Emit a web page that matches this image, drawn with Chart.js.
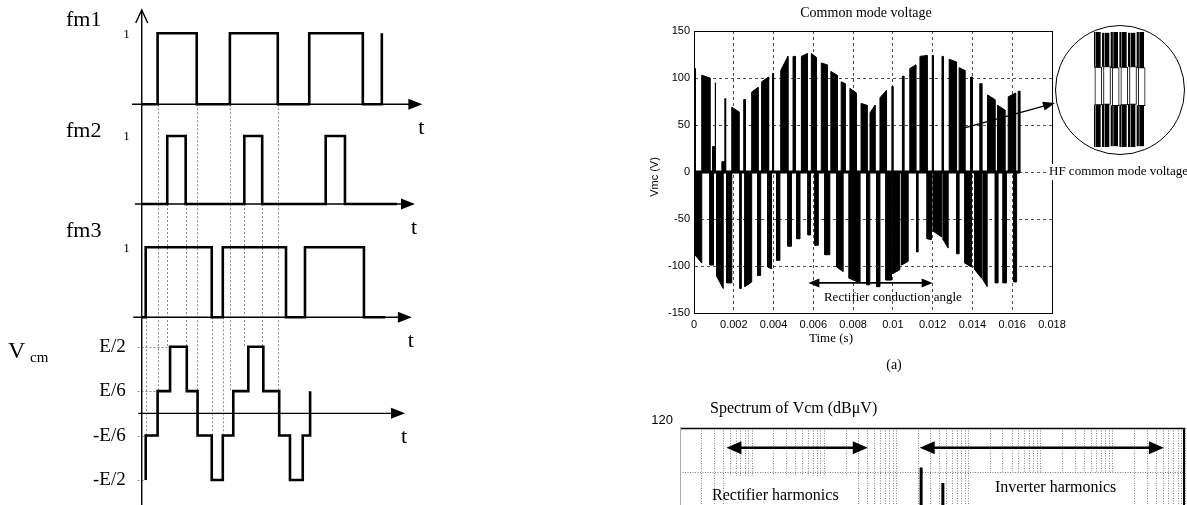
<!DOCTYPE html>
<html>
<head>
<meta charset="utf-8">
<title>Common mode voltage</title>
<script src="https://cdn.jsdelivr.net/npm/chart.js@4.4.1/dist/chart.umd.min.js"></script>
<style>
  html, body { margin: 0; padding: 0; background: #fff; }
  body { position: relative; width: 1187px; height: 505px; overflow: hidden; }
  canvas { position: absolute; }
</style>
</head>
<body>
<canvas id="pwm" width="430" height="505" style="left:0px;top:0px"></canvas>
<canvas id="cmv" width="587" height="385" style="left:600px;top:0px"></canvas>
<canvas id="zoomed" width="134" height="135" style="left:1053px;top:23px"></canvas>
<canvas id="spectrum" width="547" height="150" style="left:640px;top:395px"></canvas>
<script>
const SERIF = '"Liberation Serif", "DejaVu Serif", serif';
const SANS = '"Liberation Sans", Arial, sans-serif';

// ---- left: switching functions (time in arbitrary units) ----
const fmNames = ['fm1', 'fm2', 'fm3'];
const fm1Edges = [5.6, 19.4, 31.1, 48.0, 59.1, 78.0, 84.7];
const fm2Edges = [9.0, 15.5, 36.2, 42.5, 64.9, 71.7];
const fm3Edges = [1.4, 24.7, 28.6, 50.9, 57.6, 78.4];
const fmEnds = [84.7, 90.1, 85.8];
const vcmStart = -1 / 2;
const vcmEdges = [1.4, 5.6, 10.0, 15.9, 19.7, 24.7, 28.6, 32.3, 37.6, 42.9, 48.5, 52.3, 56.8, 59.4];
const vcmLevels = [-1/6, 1/6, 1/2, 1/6, -1/6, -1/2, -1/6, 1/6, 1/2, 1/6, -1/6, -1/2, -1/6, 1/6];
const vcmTickValues = [1/2, 1/6, -1/6, -1/2];
const vcmTickLabels = ['E/2', 'E/6', '-E/6', '-E/2'];
const vcmDotEnd = [10.0, 5.6, 1.4, 1.4];
const guideTimes = [1.4, 5.6, 9.0, 15.5, 19.4, 24.7, 28.6, 31.1, 36.2, 42.5, 48.0];
const guideFrom  = ['y3', 'y1', 'y2', 'y2', 'y1', 'y3', 'y3', 'y1', 'y2', 'y2', 'y1'];
const guideTo    = [-1/2, 1/6, 1/2, 1/6, -1/6, -1/2, -1/6, 1/6, 1/2, 1/6, -1/6];
const axisStart = [-3.4, -2.4, -3.0, -1.2];
const axisEnd   = [99.0, 96.4, 95.3, 92.9];

// ---- right top: common mode voltage (times in ms, volts) ----
const cmXTickValues = [0, 0.002, 0.004, 0.006, 0.008, 0.010, 0.012, 0.014, 0.016, 0.018];
const cmXTickLabels = ['0', '0.002', '0.004', '0.006', '0.008', '0.01', '0.012', '0.014', '0.016', '0.018'];
const cmYTickValues = [-150, -100, -50, 0, 50, 100, 150];
const cmEnd = 16.4;
const posStart = [0.00, 0.39, 0.93, 1.06, 1.40, 1.55, 1.90, 2.50, 2.90, 3.40, 3.95, 4.36, 4.98, 5.40, 5.90, 6.40, 6.88, 7.40, 7.84, 8.40, 8.85, 9.35, 9.95, 10.48, 10.85, 11.36, 11.98, 12.47, 12.83, 13.33, 13.90, 14.37, 14.76, 15.26, 15.80, 16.30];
const posEnd   = [0.06, 0.80, 1.06, 1.10, 1.55, 1.59, 2.26, 2.58, 3.22, 3.75, 4.00, 4.72, 5.10, 5.70, 6.15, 6.70, 7.20, 7.60, 8.17, 8.70, 9.10, 9.68, 10.00, 10.55, 11.15, 11.72, 12.03, 12.53, 13.20, 13.62, 14.00, 14.47, 15.13, 15.63, 16.17, 16.38];
const posVA    = [112, 103, 27, 95, 11, 78, 69, 77, 85, 96, 105, 108, 123, 123, 126, 116, 107, 96, 89, 73, 63, 79, 91, 102, 110, 123, 124, 123, 120, 111, 101, 94, 82, 71, 80, 86];
const posVB    = [110, 100, 27, 95, 11, 78, 64, 77, 90, 101, 105, 123, 123, 126, 122, 114, 103, 94, 84, 71, 71, 87, 91, 102, 114, 124, 124, 123, 117, 108, 101, 94, 77, 66, 84, 86];
const negStart = [0.05, 0.80, 1.14, 1.64, 2.31, 2.56, 3.20, 3.70, 4.16, 4.72, 5.16, 5.73, 6.08, 6.58, 7.17, 7.80, 8.68, 9.18, 9.65, 10.00, 10.44, 11.19, 11.72, 12.03, 12.53, 13.20, 13.62, 14.12, 14.54, 15.15, 15.54, 16.08];
const negEnd   = [0.39, 0.98, 1.47, 1.90, 2.38, 2.90, 3.35, 3.90, 4.32, 4.90, 5.33, 5.86, 6.25, 6.83, 7.50, 8.35, 8.84, 9.35, 9.93, 10.35, 10.77, 11.27, 11.94, 12.45, 12.78, 13.33, 13.95, 14.46, 14.74, 15.29, 15.71, 16.22];
const negVA    = [-88, -99, -111, -118, -124, -122, -110, -101, -94, -79, -71, -67, -78, -88, -101, -113, -120, -122, -115, -108, -99, -85, -71, -63, -72, -87, -97, -104, -115, -118, -118, -117];
const negVB    = [-97, -99, -124, -118, -124, -117, -110, -103, -94, -79, -71, -67, -78, -88, -106, -118, -120, -122, -115, -104, -95, -85, -72, -69, -81, -87, -101, -113, -122, -118, -118, -117];
const condArrowT = [5.75, 12.0];   // ms
const condArrowV = -118;
const condText = { t: 10.0, v: -134 };
const zoomArrowFrom = { t: 13.6, v: 47 };

// zoomed HF pulses (inside the circle)
const insetThickX = [1, 2, 3, 4, 5, 6];
const insetThinX = [0.55, 1.55, 2.55, 3.55, 4.55, 5.55];
const insetHigh = [1.0, 0.98, 1.0, 1.0, 0.98, 1.0];
const insetUpperEdge = [0.39, 0.40, 0.38, 0.39, 0.40, 0.38];
const insetLowerEdge = [-0.27, -0.26, -0.28, -0.27, -0.26, -0.28];
const insetLow = [-1.0, -1.0, -0.98, -1.0, -1.0, -0.98];

// ---- right bottom: spectrum (Hz, dBuV) ----
const specDecades = [1, 2, 3, 4, 5, 6, 7];
const specGridMult = [1, 2, 3, 4, 5, 6, 7, 8, 9];
const specFreqs = [22000, 44000];
const specLevels = [102, 95];
const specYTicks = [80, 100, 120];
const rectifierBand = [44, 4000];
const inverterBand = [21000, 5.1e7];
const harmonicArrowDb = 111;

Chart.defaults.font.family = SANS;
Chart.defaults.color = '#000';

function arrowHead(ctx, x, y, angle, len, half) {
  ctx.save();
  ctx.translate(x, y);
  ctx.rotate(angle);
  ctx.beginPath();
  ctx.moveTo(0, 0);
  ctx.lineTo(-len, -half);
  ctx.lineTo(-len, half);
  ctx.closePath();
  ctx.fill();
  ctx.restore();
}

function switchingPoints(edges, end) {
  let level = 0;
  const pts = [{ x: 0, y: 0 }];
  edges.forEach(t => {
    pts.push({ x: t, y: level });
    level = 1 - level;
    pts.push({ x: t, y: level });
  });
  if (end > edges[edges.length - 1]) pts.push({ x: end, y: level });
  return pts;
}

function vcmPoints() {
  let level = vcmStart;
  const pts = [{ x: vcmEdges[0], y: level }];
  vcmEdges.forEach((t, i) => {
    pts.push({ x: t, y: level });
    level = vcmLevels[i];
    pts.push({ x: t, y: level });
  });
  return pts;
}

function wave(points, axis) {
  return {
    data: points, yAxisID: axis, borderColor: '#000', borderWidth: 2.6,
    pointRadius: 0, fill: false, tension: 0, borderJoinStyle: 'miter', clip: false
  };
}

const pwmDecor = {
  id: 'pwmDecor',
  beforeDatasetsDraw(chart) {
    const { ctx, scales } = chart;
    const x = scales.x;
    ctx.save();
    ctx.strokeStyle = '#8a8a8a';
    ctx.lineWidth = 1;
    ctx.setLineDash([2, 2]);
    guideTimes.forEach((t, i) => {
      const px = Math.round(x.getPixelForValue(t)) + 0.5;
      ctx.beginPath();
      ctx.moveTo(px, scales[guideFrom[i]].getPixelForValue(0));
      ctx.lineTo(px, scales.y4.getPixelForValue(guideTo[i]));
      ctx.stroke();
    });
    vcmTickValues.forEach((v, i) => {
      const py = Math.round(scales.y4.getPixelForValue(v)) + 0.5;
      ctx.beginPath();
      ctx.moveTo(x.getPixelForValue(-1.5), py);
      ctx.lineTo(x.getPixelForValue(vcmDotEnd[i]), py);
      ctx.stroke();
    });
    ctx.setLineDash([]);

    ctx.strokeStyle = '#000';
    ctx.fillStyle = '#000';
    ctx.lineWidth = 1.4;
    const x0 = x.getPixelForValue(0);
    ctx.beginPath();
    ctx.moveTo(x0, chart.height);
    ctx.lineTo(x0, 10);
    ctx.stroke();
    ctx.beginPath();
    ctx.moveTo(x0 - 6, 23);
    ctx.lineTo(x0, 10);
    ctx.lineTo(x0 + 6, 23);
    ctx.stroke();
    ['y1', 'y2', 'y3', 'y4'].forEach((id, i) => {
      const py = scales[id].getPixelForValue(0);
      const xa = x.getPixelForValue(axisStart[i]);
      const xb = x.getPixelForValue(axisEnd[i]);
      ctx.beginPath();
      ctx.moveTo(xa, py);
      ctx.lineTo(xb - 10, py);
      ctx.stroke();
      arrowHead(ctx, xb, py, 0, 14, 5.5);
    });
    ctx.restore();
  },
  afterDraw(chart) {
    const { ctx, scales } = chart;
    const x = scales.x;
    const x0 = x.getPixelForValue(0);
    const nameDy = [-7, 1, -10];
    ctx.save();
    ctx.fillStyle = '#000';
    ctx.textBaseline = 'alphabetic';
    ctx.textAlign = 'left';
    ctx.font = '22px ' + SERIF;
    fmNames.forEach((n, i) => {
      ctx.fillText(n, 66, scales['y' + (i + 1)].getPixelForValue(1) + nameDy[i]);
    });
    ctx.textBaseline = 'middle';
    ctx.textAlign = 'right';
    ctx.font = '13px ' + SERIF;
    fmNames.forEach((n, i) => {
      ctx.fillText('1', x0 - 12, scales['y' + (i + 1)].getPixelForValue(1) + 1);
    });
    ctx.font = '19px ' + SERIF;
    vcmTickValues.forEach((v, i) => {
      ctx.fillText(vcmTickLabels[i], x0 - 16, scales.y4.getPixelForValue(v));
    });
    ctx.textAlign = 'center';
    ctx.font = '22px ' + SERIF;
    ['y1', 'y2', 'y3', 'y4'].forEach((id, i) => {
      ctx.fillText('t', x.getPixelForValue(axisEnd[i]) - 1, scales[id].getPixelForValue(0) + 24);
    });
    ctx.textAlign = 'left';
    ctx.textBaseline = 'alphabetic';
    ctx.font = '24px ' + SERIF;
    ctx.fillText('V', 8, 358);
    ctx.font = '15px ' + SERIF;
    ctx.fillText('cm', 30, 362);
    ctx.restore();
  }
};

new Chart(document.getElementById('pwm'), {
  type: 'line',
  data: {
    datasets: [
      wave(switchingPoints(fm1Edges, fmEnds[0]), 'y1'),
      wave(switchingPoints(fm2Edges, fmEnds[1]), 'y2'),
      wave(switchingPoints(fm3Edges, fmEnds[2]), 'y3'),
      wave(vcmPoints(), 'y4')
    ]
  },
  options: {
    responsive: false, animation: false,
    layout: { padding: 0 },
    plugins: { legend: { display: false }, tooltip: { enabled: false } },
    scales: {
      x: { type: 'linear', display: false, min: -50, max: 101.7 },
      y1: { display: false, min: -5.644, max: 1.469 },
      y2: { display: false, min: -4.426, max: 3.0 },
      y3: { display: false, min: -2.681, max: 4.533 },
      y4: { display: false, min: -0.688, max: 3.103 }
    }
  },
  plugins: [pwmDecor]
});

// ---- common mode voltage ----
function pulsePoints(starts, ends, va, vb) {
  const pts = [{ x: 0, y: 0 }];
  starts.forEach((s, i) => {
    pts.push({ x: s / 1000, y: 0 }, { x: s / 1000, y: va[i] }, { x: ends[i] / 1000, y: vb[i] }, { x: ends[i] / 1000, y: 0 });
  });
  pts.push({ x: cmEnd / 1000, y: 0 });
  return pts;
}

const cmDecor = {
  id: 'cmDecor',
  afterDraw(chart) {
    const { ctx, chartArea: a, scales: { x, y } } = chart;
    ctx.save();
    ctx.strokeStyle = '#000';
    ctx.fillStyle = '#000';
    ctx.lineWidth = 1;
    ctx.strokeRect(a.left + 0.5, a.top + 0.5, a.right - a.left, a.bottom - a.top);

    // HF label sits over the right border, on a white ground
    const y0 = y.getPixelForValue(0);
    ctx.fillStyle = '#fff';
    ctx.fillRect(a.right - 5, y0 - 8, 140, 16);
    ctx.fillStyle = '#000';
    ctx.font = '13px ' + SERIF;
    ctx.textAlign = 'left';
    ctx.textBaseline = 'middle';
    ctx.fillText('HF common mode voltage', a.right - 3, y0);

    // rectifier conduction angle
    const ya = y.getPixelForValue(condArrowV);
    const xl = x.getPixelForValue(condArrowT[0] / 1000);
    const xr = x.getPixelForValue(condArrowT[1] / 1000);
    ctx.lineWidth = 1.6;
    ctx.beginPath();
    ctx.moveTo(xl + 8, ya);
    ctx.lineTo(xr - 8, ya);
    ctx.stroke();
    arrowHead(ctx, xl, ya, Math.PI, 11, 4.5);
    arrowHead(ctx, xr, ya, 0, 11, 4.5);
    ctx.textAlign = 'center';
    ctx.fillText('Rectifier conduction angle', x.getPixelForValue(condText.t / 1000), y.getPixelForValue(condText.v));

    // arrow to the zoomed circle
    const sx = x.getPixelForValue(zoomArrowFrom.t / 1000);
    const sy = y.getPixelForValue(zoomArrowFrom.v);
    const ex = 455, ey = 103;
    const ang = Math.atan2(ey - sy, ex - sx);
    ctx.lineWidth = 1.4;
    ctx.beginPath();
    ctx.moveTo(sx, sy);
    ctx.lineTo(ex - 9 * Math.cos(ang), ey - 9 * Math.sin(ang));
    ctx.stroke();
    arrowHead(ctx, ex, ey, ang, 12, 4.5);

    // titles
    ctx.font = '14px ' + SERIF;
    ctx.fillText('Common mode voltage', 266, 13);
    ctx.font = '13px ' + SERIF;
    ctx.fillText('Time (s)', 231, 339);
    ctx.font = '14px ' + SERIF;
    ctx.fillText('(a)', 294, 365);
    ctx.font = '11px ' + SANS;
    ctx.translate(55, 177);
    ctx.rotate(-Math.PI / 2);
    ctx.fillText('Vmc (V)', 0, 0);
    ctx.restore();
  }
};

const cmGrid = { color: '#222', lineWidth: 0.8, drawTicks: false };
new Chart(document.getElementById('cmv'), {
  type: 'line',
  data: {
    datasets: [
      { data: pulsePoints(posStart, posEnd, posVA, posVB), borderColor: '#000', backgroundColor: '#000', borderWidth: 1, pointRadius: 0, tension: 0, fill: 'origin' },
      { data: pulsePoints(negStart, negEnd, negVA, negVB), borderColor: '#000', backgroundColor: '#000', borderWidth: 1, pointRadius: 0, tension: 0, fill: 'origin' },
      { data: [{ x: 0, y: 0 }, { x: cmEnd / 1000, y: 0 }], borderColor: '#000', borderWidth: 3, pointRadius: 0, fill: false }
    ]
  },
  options: {
    responsive: false, animation: false,
    layout: { padding: { left: 0, top: 31, right: 135, bottom: 0 } },
    plugins: { legend: { display: false }, tooltip: { enabled: false } },
    scales: {
      x: {
        type: 'linear', min: 0, max: 0.018,
        afterBuildTicks: s => { s.ticks = cmXTickValues.map(v => ({ value: v })); },
        afterFit: s => { s.height = 72; },
        ticks: { padding: 5, maxRotation: 0, autoSkip: false, font: { size: 11 }, callback: (v, i) => cmXTickLabels[i] },
        grid: cmGrid,
        border: { display: true, color: '#000', width: 1, dash: [3, 3] }
      },
      y: {
        min: -150, max: 150,
        afterBuildTicks: s => { s.ticks = cmYTickValues.map(v => ({ value: v })); },
        afterFit: s => { s.width = 94; },
        ticks: { padding: 4, font: { size: 11 } },
        grid: cmGrid,
        border: { display: true, color: '#000', width: 1, dash: [3, 3] }
      }
    }
  },
  plugins: [cmDecor]
});

// ---- zoomed HF pulses in the circle ----
const circleDecor = {
  id: 'circleDecor',
  afterDraw(chart) {
    const ctx = chart.ctx;
    ctx.save();
    ctx.strokeStyle = '#000';
    ctx.lineWidth = 1;
    ctx.beginPath();
    ctx.arc(67, 67, 64.5, 0, Math.PI * 2);
    ctx.stroke();
    ctx.restore();
  }
};

function insetBars(xs, lo, hi) {
  return xs.map((x, i) => ({ x, y: [lo[i], hi[i]] }));
}

new Chart(document.getElementById('zoomed'), {
  type: 'bar',
  data: {
    datasets: [
      { data: insetBars(insetThickX, insetUpperEdge, insetHigh), backgroundColor: '#000', barThickness: 4, grouped: false },
      { data: insetBars(insetThinX, insetUpperEdge, insetHigh), backgroundColor: '#000', barThickness: 1.5, grouped: false },
      { data: insetBars(insetThickX, insetLowerEdge, insetUpperEdge), backgroundColor: '#fff', borderColor: '#000', borderWidth: 1, borderSkipped: false, barThickness: 7, grouped: false },
      { data: insetBars(insetThickX, insetLow, insetLowerEdge), backgroundColor: '#000', barThickness: 4, grouped: false },
      { data: insetBars(insetThinX, insetLow, insetLowerEdge), backgroundColor: '#000', barThickness: 1.5, grouped: false }
    ]
  },
  options: {
    responsive: false, animation: false,
    layout: { padding: { left: 41, right: 41, top: 9, bottom: 11 } },
    plugins: { legend: { display: false }, tooltip: { enabled: false } },
    scales: {
      x: { type: 'linear', display: false, offset: false, min: 0.5, max: 6.5 },
      y: { display: false, min: -1, max: 1 }
    }
  },
  plugins: [circleDecor]
});

// ---- spectrum ----
function spikePoints() {
  const pts = [];
  specFreqs.forEach((f, i) => {
    pts.push({ x: f, y: 70 }, { x: f, y: specLevels[i] }, { x: f, y: null });
  });
  return pts;
}

const specDecor = {
  id: 'specDecor',
  afterDraw(chart) {
    const { ctx, chartArea: a, scales: { x, y } } = chart;
    ctx.save();
    ctx.fillStyle = '#fff';
    ctx.fillRect(90, 81, 120, 40);
    ctx.fillRect(350, 78, 140, 40);
    ctx.strokeStyle = '#000';
    ctx.lineWidth = 1.5;
    ctx.beginPath();
    ctx.moveTo(a.left, a.top + 0.5);
    ctx.lineTo(a.right, a.top + 0.5);
    ctx.stroke();
    ctx.lineWidth = 2;
    ctx.beginPath();
    ctx.moveTo(a.right - 1, a.top);
    ctx.lineTo(a.right - 1, chart.height);
    ctx.stroke();
    ctx.strokeStyle = '#aaa';
    ctx.lineWidth = 1;
    ctx.beginPath();
    ctx.moveTo(a.left + 0.5, a.top);
    ctx.lineTo(a.left + 0.5, chart.height);
    ctx.stroke();

    ctx.fillStyle = '#000';
    ctx.strokeStyle = '#000';
    ctx.lineWidth = 2.6;
    const ya = y.getPixelForValue(harmonicArrowDb);
    [rectifierBand, inverterBand].forEach(b => {
      const xl = x.getPixelForValue(b[0]);
      const xr = x.getPixelForValue(b[1]);
      ctx.beginPath();
      ctx.moveTo(xl + 10, ya);
      ctx.lineTo(xr - 10, ya);
      ctx.stroke();
      arrowHead(ctx, xl, ya, Math.PI, 15, 6.5);
      arrowHead(ctx, xr, ya, 0, 15, 6.5);
    });

    ctx.font = '16px ' + SERIF;
    ctx.textAlign = 'left';
    ctx.textBaseline = 'alphabetic';
    ctx.fillText('Spectrum of Vcm (dB\u03bcV)', 70, 18);
    ctx.textBaseline = 'middle';
    ctx.fillText('Rectifier harmonics', 72, 101);
    ctx.fillText('Inverter harmonics', 355, 93);
    ctx.restore();
  }
};

new Chart(document.getElementById('spectrum'), {
  type: 'line',
  data: {
    datasets: [
      { data: spikePoints(), borderColor: '#000', borderWidth: 3, pointRadius: 0, fill: false, spanGaps: false }
    ]
  },
  options: {
    responsive: false, animation: false,
    layout: { padding: { left: 0, top: 33, right: 2, bottom: 29 } },
    plugins: { legend: { display: false }, tooltip: { enabled: false } },
    scales: {
      x: {
        type: 'logarithmic', min: 10, max: 1e8,
        afterBuildTicks: s => {
          const t = [];
          specDecades.forEach(d => specGridMult.forEach(m => t.push({ value: m * Math.pow(10, d) })));
          t.push({ value: 1e8 });
          s.ticks = t;
        },
        afterFit: s => { s.height = 0; },
        ticks: { display: false, autoSkip: false },
        grid: { color: '#666', lineWidth: 0.8, drawTicks: false },
        border: { display: false, dash: [1, 1.5] }
      },
      y: {
        min: 80, max: 120,
        afterBuildTicks: s => { s.ticks = specYTicks.map(v => ({ value: v })); },
        afterFit: s => { s.width = 40; },
        ticks: { padding: 7, labelOffset: -8, font: { size: 13 }, callback: v => (v === 120 ? '120' : '') },
        grid: { color: '#555', lineWidth: 0.8, drawTicks: false },
        border: { display: false, dash: [1, 1.5] }
      }
    }
  },
  plugins: [specDecor]
});
</script>
</body>
</html>
